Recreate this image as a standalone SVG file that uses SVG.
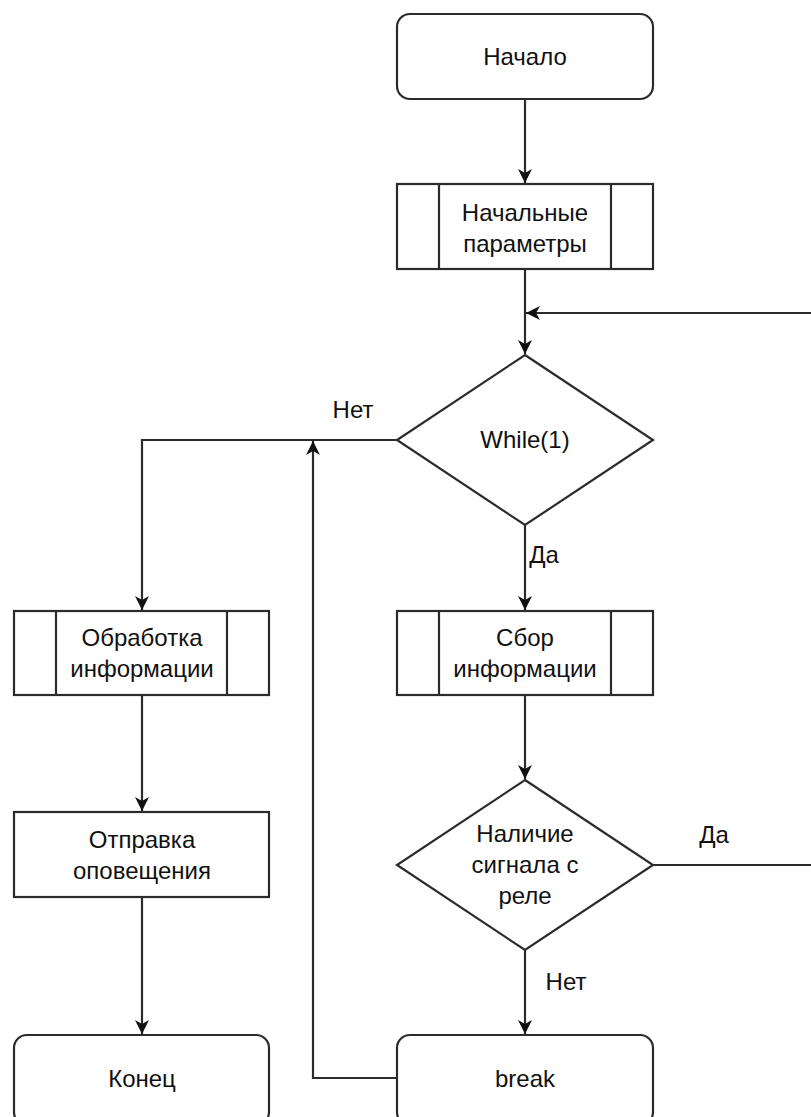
<svg xmlns="http://www.w3.org/2000/svg" width="811" height="1117" viewBox="0 0 811 1117">
<style>
.n{fill:#fff;stroke:#2b2b2b;stroke-width:2.2}
.c{fill:none;stroke:#2b2b2b;stroke-width:2.2}
text{font-family:"Liberation Sans",Arial,sans-serif;font-size:24px;fill:#111;text-anchor:middle}
</style>
<defs>
<marker id="a" viewBox="0 0 14 14" refX="14" refY="7" markerWidth="14" markerHeight="14" markerUnits="userSpaceOnUse" orient="auto">
<path d="M0,0 L14,7 L0,14 L4,7 Z" fill="#111"/>
</marker>
</defs>
<g id="connectors">
<path class="c" d="M525,99 V183" marker-end="url(#a)"/>
<path class="c" d="M525,269 V354" marker-end="url(#a)"/>
<path class="c" d="M525,525 V610" marker-end="url(#a)"/>
<path class="c" d="M525,695 V779" marker-end="url(#a)"/>
<path class="c" d="M525,950 V1034" marker-end="url(#a)"/>
<path class="c" d="M397,440 H142 V610" marker-end="url(#a)"/>
<path class="c" d="M142,695 V811" marker-end="url(#a)"/>
<path class="c" d="M142,897 V1034" marker-end="url(#a)"/>
<path class="c" d="M397,1078 H313 V441" marker-end="url(#a)"/>
<path class="c" d="M653,865 H830 V313 H526" marker-end="url(#a)"/>
<text x="353" y="418">Нет</text>
<text x="544" y="563">Да</text>
<text x="714" y="843">Да</text>
<text x="566" y="990">Нет</text>
</g>
<g id="start">
<rect class="n" x="397" y="14" width="256" height="85" rx="13"/>
<text x="525" y="65">Начало</text>
</g>
<g id="params">
<rect class="n" x="397" y="184" width="256" height="85"/>
<path class="c" d="M439,184 V269 M611,184 V269"/>
<text x="525" y="221">Начальные</text>
<text x="525" y="252">параметры</text>
</g>
<g id="while">
<path class="n" d="M525,355 L653,440 L525,525 L397,440 Z"/>
<text x="525" y="448">While(1)</text>
</g>
<g id="collect">
<rect class="n" x="397" y="611" width="256" height="84"/>
<path class="c" d="M439,611 V695 M611,611 V695"/>
<text x="525" y="646">Сбор</text>
<text x="525" y="677">информации</text>
</g>
<g id="signal">
<path class="n" d="M525,780 L653,865 L525,950 L397,865 Z"/>
<text x="525" y="842">Наличие</text>
<text x="525" y="873">сигнала с</text>
<text x="525" y="904">реле</text>
</g>
<g id="break">
<rect class="n" x="397" y="1035" width="256" height="90" rx="13"/>
<text x="525" y="1087">break</text>
</g>
<g id="process">
<rect class="n" x="14" y="611" width="255" height="84"/>
<path class="c" d="M56,611 V695 M227,611 V695"/>
<text x="142" y="646">Обработка</text>
<text x="142" y="677">информации</text>
</g>
<g id="notify">
<rect class="n" x="14" y="812" width="255" height="85"/>
<text x="142" y="848">Отправка</text>
<text x="142" y="879">оповещения</text>
</g>
<g id="end">
<rect class="n" x="14" y="1035" width="255" height="90" rx="13"/>
<text x="142" y="1087">Конец</text>
</g>
</svg>
